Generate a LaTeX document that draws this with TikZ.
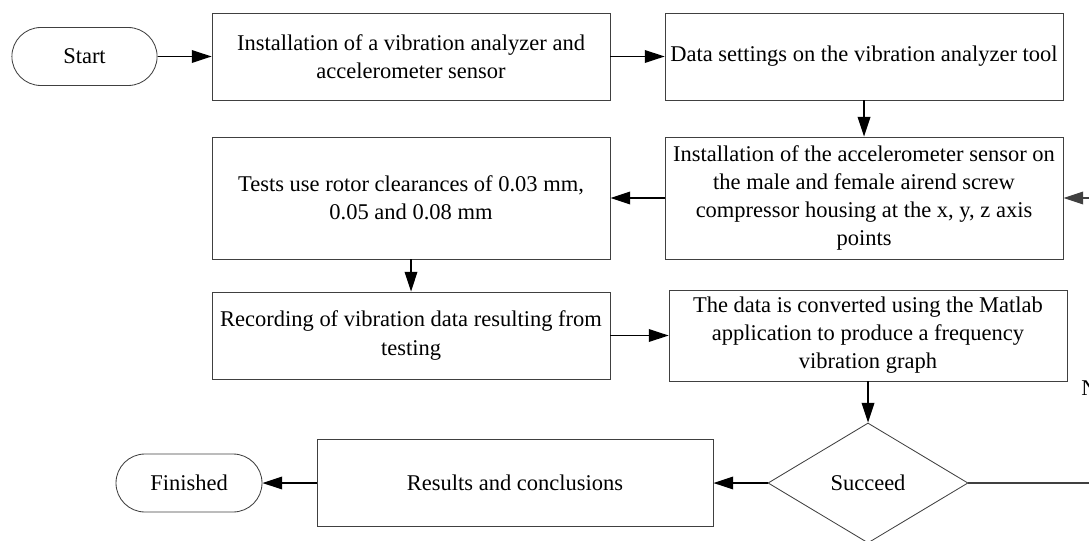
\documentclass[tikz,border=0pt]{standalone}
\usepackage{fontspec}
\setmainfont{Liberation Serif}
\usepackage{tikz}
\usetikzlibrary{positioning, shapes.geometric, arrows.meta}

\begin{document}
\begin{tikzpicture}[
    box/.style={draw=black!75, line width=0.6pt, rectangle, align=center,
      minimum width=9.95cm, inner sep=2pt, font=\fontsize{16}{20}\selectfont},
    term/.style={draw=black!75, line width=0.6pt, rectangle, rounded corners=7.25mm,
      minimum width=3.63cm, minimum height=1.45cm, inner sep=0pt,
      font=\fontsize{16}{20}\selectfont},
    decide/.style={draw=black!75, line width=0.6pt, diamond, aspect=1.667,
      minimum width=5cm, minimum height=3cm, inner sep=0pt,
      font=\fontsize{16}{20}\selectfont},
    flow/.style={-{Triangle[length=14pt, width=9pt]}, line width=1pt}]
  \clip (0,0) rectangle (27.225,13.5);
  % Top row
  \node[term] (start) at (2.1125,12.0875) {Start};
  \node[box, minimum height=2.175cm] (inst) at (10.275,12.0875)
    {Installation of a vibration analyzer and\\accelerometer sensor};
  \node[box, minimum height=2.175cm] (setup) at (21.6,12.0875)
    {Data settings on the vibration analyzer tool};
  % Second row
  \node[box, minimum height=3.05cm] (sensor) at (21.6,8.55)
    {Installation of the accelerometer sensor on\\the male and female airend screw\\compressor housing at the x, y, z axis\\points};
  \node[box, minimum height=3.05cm] (tests) at (10.275,8.55)
    {Tests use rotor clearances of 0.03 mm,\\0.05 and 0.08 mm};
  % Third row
  \node[box, minimum height=2.175cm] (record) at (10.275,5.1125)
    {Recording of vibration data resulting from\\testing};
  \node[box, minimum height=2.275cm] (matlab) at (21.7,5.1125)
    {The data is converted using the Matlab\\application to produce a frequency\\vibration graph};
  % Bottom row
  \node[decide] (ok) at (21.7,1.425) {Succeed};
  \node[box, minimum width=9.9cm, minimum height=2.175cm] (result) at (12.875,1.425)
    {Results and conclusions};
  \node[term, minimum width=3.65cm] (finish) at (4.725,1.425) {Finished};
  \node[anchor=west, inner sep=0pt, font=\fontsize{16}{20}\selectfont] (no) at (27.03,3.8) {No};
  % Connectors
  \draw[flow] (start) -- (inst);
  \draw[flow] (inst) -- (setup);
  \draw[flow] (setup) -- (sensor);
  \draw[flow] (sensor) -- (tests);
  \draw[flow] (tests) -- (record);
  \draw[flow] (record) -- (matlab);
  \draw[flow] (matlab) -- (ok);
  \draw[flow] (ok) -- (result);
  \draw[flow] (result) -- (finish);
  % Loop back when it fails
  \coordinate (loopA) at (27.75,1.425);
  \coordinate (loopB) at (27.75,8.55);
  \draw[line width=1pt, black!75] (ok.east) -- (loopA);
  \draw[flow, black!75] (loopA) -- (loopB) -- (sensor.east);
\end{tikzpicture}
\end{document}
